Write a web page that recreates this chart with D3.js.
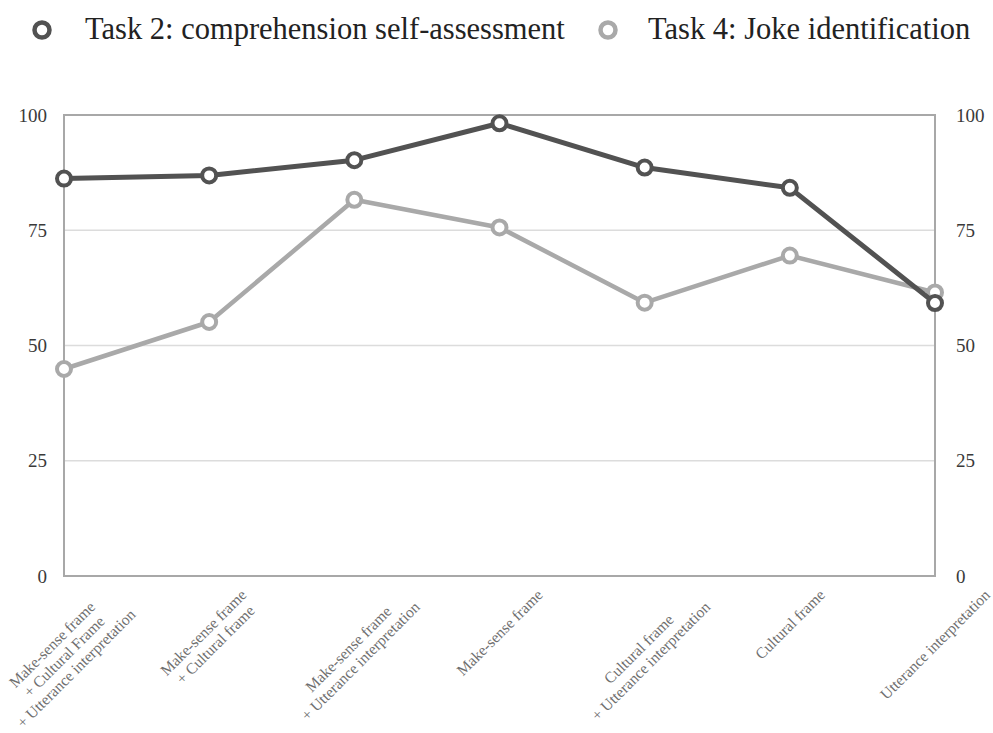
<!DOCTYPE html>
<html>
<head>
<meta charset="utf-8">
<script src="https://cdn.jsdelivr.net/npm/d3@7"></script>
<style>
  body { margin: 0; background: #fff; }
  svg { display: block; font-family: "Liberation Serif", "DejaVu Serif", serif; }
</style>
</head>
<body>
<div id="chart"></div>
<script>
// categories (each entry is split into lines)
const categories = [
    ["Make-sense frame", "+ Cultural Frame", "+ Utterance interpretation"],
    ["Make-sense frame", "+ Cultural frame"],
    ["Make-sense frame", "+ Utterance interpretation"],
    ["Make-sense frame"],
    ["Cultural frame", "+ Utterance interpretation"],
    ["Cultural frame"],
    ["Utterance interpretation"]
];
const task2 = [86.2, 86.9, 90.2, 98.2, 88.6, 84.2, 59.2];
const task4 = [44.9, 55.1, 81.6, 75.6, 59.3, 69.5, 61.5];
const yTicks = [0, 25, 50, 75, 100];
const seriesNames = ["Task 2: comprehension self-assessment", "Task 4: Joke identification"];
const seriesColors = ["#525252", "#a9a9a9"];

const width = 993, height = 733;
const margin = {top: 115, right: 58, bottom: 157, left: 64};
const serif = "Liberation Serif, Times New Roman, serif";

const svg = d3.select("#chart").append("svg")
    .attr("width", width)
    .attr("height", height);

const x = d3.scalePoint()
    .domain(d3.range(categories.length))
    .range([margin.left, width - margin.right]);
const y = d3.scaleLinear()
    .domain([0, 100])
    .range([height - margin.bottom, margin.top]);

// gridlines
svg.append("g")
    .selectAll("line")
    .data(yTicks.filter(d => d > 0 && d < 100))
    .join("line")
    .attr("x1", margin.left).attr("x2", width - margin.right)
    .attr("y1", d => y(d)).attr("y2", d => y(d))
    .attr("stroke", "#dcdcdc").attr("stroke-width", 1.5);

// frame
svg.append("rect")
    .attr("x", margin.left).attr("y", margin.top)
    .attr("width", width - margin.right - margin.left)
    .attr("height", y(0) - y(100))
    .attr("fill", "none")
    .attr("stroke", "#a8a8a8").attr("stroke-width", 2);

// y axes, both sides
const yLeft = d3.axisLeft(y).tickValues(yTicks).tickSize(0).tickPadding(17);
const yRight = d3.axisRight(y).tickValues(yTicks).tickSize(0).tickPadding(21);
[[yLeft, margin.left], [yRight, width - margin.right]].forEach(([ax, pos]) => {
    const g = svg.append("g").attr("transform", `translate(${pos},0)`).call(ax);
    g.select(".domain").remove();
    g.attr("font-family", serif);
    g.selectAll("text")
        .attr("font-size", 19)
        .attr("fill", "#3a3a3a");
});

// category labels, rotated -45, one text per line
const labelG = svg.append("g").attr("font-family", serif);
categories.forEach((lines, i) => {
    const g = labelG.append("g");
    const inner = g.append("g").attr("transform", "rotate(-45)");
    lines.forEach((ln, j) => {
        inner.append("text")
            .attr("text-anchor", "middle")
            .attr("font-size", 15.5)
            .attr("fill", "#6e6e6e")
            .attr("x", 0)
            .attr("y", j * 17)
            .text(ln);
    });
    const b = g.node().getBBox();
    const cx = b.x + b.width / 2;
    const ty = Math.min(y(0) + 10 - b.y, height - 2 - (b.y + b.height));
    g.attr("transform", `translate(${x(i) - cx},${ty})`);
});

// lines and markers
const line = d3.line()
    .x((d, i) => x(i))
    .y(d => y(d));

[task4, task2].forEach((vals, k) => {
    const idx = k === 0 ? 1 : 0;
    const col = seriesColors[idx];
    svg.append("path")
        .datum(vals)
        .attr("d", line)
        .attr("fill", "none")
        .attr("stroke", col)
        .attr("stroke-width", idx === 0 ? 5 : 4.5)
        .attr("stroke-linejoin", "round");
    svg.append("g")
        .selectAll("circle")
        .data(vals)
        .join("circle")
        .attr("cx", (d, i) => x(i))
        .attr("cy", d => y(d))
        .attr("r", 7)
        .attr("fill", "#fff")
        .attr("stroke", col)
        .attr("stroke-width", 4);
});

// legend
const legendX = [42, 608];
const legendTextX = [85, 648];
const legend = svg.append("g").attr("font-family", serif);
seriesNames.forEach((name, i) => {
    legend.append("circle")
        .attr("cx", legendX[i]).attr("cy", 30)
        .attr("r", 7.5)
        .attr("fill", "#fff")
        .attr("stroke", seriesColors[i])
        .attr("stroke-width", 4.5);
    legend.append("text")
        .attr("x", legendTextX[i])
        .attr("y", 39)
        .attr("font-size", 30.5)
        .attr("fill", "#222")
        .text(name);
});
</script>
</body>
</html>
